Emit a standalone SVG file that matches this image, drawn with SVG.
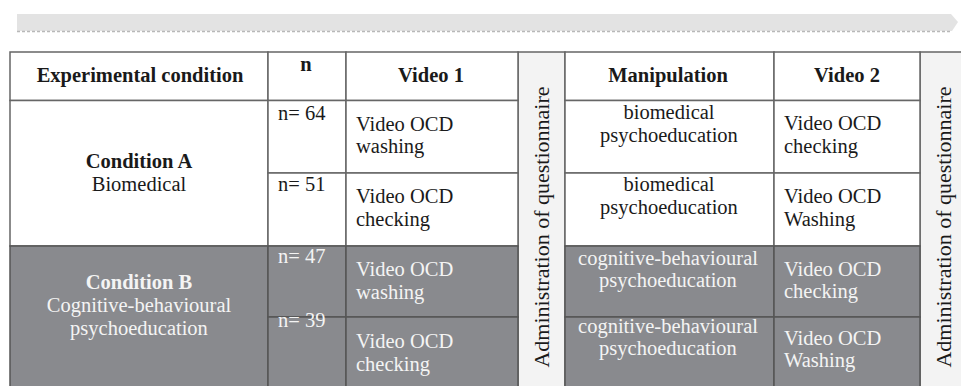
<svg xmlns="http://www.w3.org/2000/svg" width="961" height="386" viewBox="0 0 961 386" font-family="Liberation Serif, serif">
<style>
text{font-family:'Liberation Serif',serif}
.t{font-size:20.5px;fill:#1a1a1a}
.b{font-weight:bold}
.w{fill:#f4f4f4}
.m{text-anchor:middle}
.cell{fill:#ffffff;stroke:#666;stroke-width:1.5}
.dark{fill:#898a8e;stroke:#555;stroke-width:1.5}
.adm{fill:#f3f3f3;stroke:#666;stroke-width:1.5}
.rot{font-size:22px;fill:#1a1a1a;text-anchor:middle}
</style>
<rect width="961" height="386" fill="#ffffff"/>
<g id="timeline">
<path d="M17,14 H951 L958,22 L952,31 H17 Z" fill="#e3e3e3"/>
<line x1="17" y1="31.5" x2="952" y2="31.5" stroke="#b8b8b8" stroke-width="1.5" stroke-dasharray="3 2"/>
</g>
<g id="admin1"><rect class="adm" x="518" y="52" width="47" height="340"/>
<text class="rot" font-family="Liberation Serif" transform="translate(549,227) rotate(-90)">Administration of questionnaire</text></g>
<g id="admin2"><rect class="adm" x="920" y="52" width="45" height="340"/>
<text class="rot" font-family="Liberation Serif" transform="translate(951,227) rotate(-90)">Administration of questionnaire</text></g>

<g id="h-cond"><rect class="cell" x="10" y="52" width="258" height="48.5"/><text class="t b m" x="140" y="82">Experimental condition</text></g>
<g id="h-n"><rect class="cell" x="268" y="52" width="78" height="48.5"/><text class="t b m" x="306" y="71">n</text></g>
<g id="h-v1"><rect class="cell" x="346" y="52" width="172" height="48.5"/><text class="t b m" x="431" y="82">Video 1</text></g>
<g id="h-man"><rect class="cell" x="565" y="52" width="209" height="48.5"/><text class="t b m" x="668" y="82">Manipulation</text></g>
<g id="h-v2"><rect class="cell" x="774" y="52" width="146" height="48.5"/><text class="t b m" x="847" y="82">Video 2</text></g>

<g id="condA"><rect class="cell" x="10" y="100.5" width="258" height="145.5"/>
<text class="t b m" x="139" y="168">Condition A</text><text class="t m" x="139" y="191">Biomedical</text></g>
<g id="condB"><rect class="dark" x="10" y="246" width="258" height="146"/>
<text class="t b m w" x="139" y="289">Condition B</text><text class="t m w" x="139" y="312">Cognitive-behavioural</text><text class="t m w" x="139" y="335">psychoeducation</text></g>

<g id="nA1"><rect class="cell" x="268" y="100.5" width="78" height="72.5"/><text class="t" x="278" y="120">n= 64</text></g>
<g id="nA2"><rect class="cell" x="268" y="173" width="78" height="73"/><text class="t" x="278" y="191">n= 51</text></g>
<g id="nB1"><rect class="dark" x="268" y="246" width="78" height="71"/><text class="t w" x="278" y="263">n= 47</text></g>
<g id="nB2"><rect class="dark" x="268" y="317" width="78" height="75"/><text class="t w" x="278" y="327">n= 39</text></g>

<g id="v1A1"><rect class="cell" x="346" y="100.5" width="172" height="72.5"/><text class="t" x="356" y="131">Video OCD</text><text class="t" x="356" y="153">washing</text></g>
<g id="v1A2"><rect class="cell" x="346" y="173" width="172" height="73"/><text class="t" x="356" y="203">Video OCD</text><text class="t" x="356" y="226">checking</text></g>
<g id="v1B1"><rect class="dark" x="346" y="246" width="172" height="71"/><text class="t w" x="356" y="276">Video OCD</text><text class="t w" x="356" y="299">washing</text></g>
<g id="v1B2"><rect class="dark" x="346" y="317" width="172" height="75"/><text class="t w" x="356" y="348">Video OCD</text><text class="t w" x="356" y="371">checking</text></g>

<g id="mA1"><rect class="cell" x="565" y="100.5" width="209" height="72.5"/><text class="t m" x="669" y="119">biomedical</text><text class="t m" x="669" y="142">psychoeducation</text></g>
<g id="mA2"><rect class="cell" x="565" y="173" width="209" height="73"/><text class="t m" x="669" y="191">biomedical</text><text class="t m" x="669" y="214">psychoeducation</text></g>
<g id="mB1"><rect class="dark" x="565" y="246" width="209" height="71"/><text class="t m w" x="668" y="265">cognitive-behavioural</text><text class="t m w" x="668" y="287">psychoeducation</text></g>
<g id="mB2"><rect class="dark" x="565" y="317" width="209" height="75"/><text class="t m w" x="668" y="333">cognitive-behavioural</text><text class="t m w" x="668" y="355">psychoeducation</text></g>

<g id="v2A1"><rect class="cell" x="774" y="100.5" width="146" height="72.5"/><text class="t" x="784" y="130">Video OCD</text><text class="t" x="784" y="153">checking</text></g>
<g id="v2A2"><rect class="cell" x="774" y="173" width="146" height="73"/><text class="t" x="784" y="203">Video OCD</text><text class="t" x="784" y="226">Washing</text></g>
<g id="v2B1"><rect class="dark" x="774" y="246" width="146" height="71"/><text class="t w" x="784" y="276">Video OCD</text><text class="t w" x="784" y="298">checking</text></g>
<g id="v2B2"><rect class="dark" x="774" y="317" width="146" height="75"/><text class="t w" x="784" y="345">Video OCD</text><text class="t w" x="784" y="367">Washing</text></g>
<g id="connectors"></g>
</svg>
